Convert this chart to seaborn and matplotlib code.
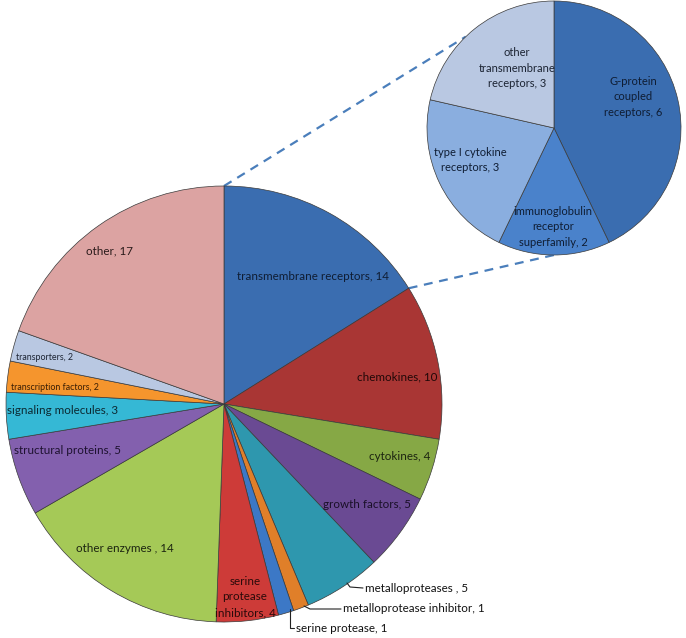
import numpy as np
import matplotlib
matplotlib.use("Agg")
import matplotlib.pyplot as plt
import seaborn as sns

# ================================================
#  Datos
# ================================================
categorias = ["transmembrane receptors", "chemokines", "cytokines", "growth factors",
              "metalloproteases", "metalloprotease inhibitor", "serine protease",
              "serine protease inhibitors", "other enzymes", "structural proteins",
              "signaling molecules", "transcription factors", "transporters", "other"]
valores = [14, 10, 4, 5, 5, 1, 1, 4, 14, 5, 3, 2, 2, 17]

sub_categorias = ["G-protein coupled receptors", "immunoglobulin receptor superfamily",
                  "type I cytokine receptors", "other transmembrane receptors"]
sub_valores = [6, 2, 3, 3]

colores = ["#3A6DB0", "#A93634", "#86A845", "#6A4A93", "#2E97AE", "#E07F29",
           "#3C78C6", "#CD3B38", "#A5C957", "#8360AE", "#35B8D5", "#F5952D",
           "#B9C8E2", "#DCA3A2"]
sub_colores = ["#3A6DB0", "#4A82CB", "#8AAEDF", "#B9C8E2"]

sns.set_style("white")
plt.rcParams['font.family'] = ['Lato', 'DejaVu Sans']

fig = plt.figure(figsize=(6.86, 6.38), dpi=100)
ax = fig.add_axes([0, 0, 1, 1])

# geometria en pixeles (y hacia arriba)
c_main, r_main = (224, 638 - 404), 218
c_sub, r_sub = (554, 638 - 128), 127

ax.pie(valores, colors=colores, startangle=90, counterclock=False,
       center=c_main, radius=r_main, frame=True,
       wedgeprops=dict(edgecolor='#3a3a3a', linewidth=0.5))
ax.pie(sub_valores, colors=sub_colores, startangle=90, counterclock=False,
       center=c_sub, radius=r_sub, frame=True,
       wedgeprops=dict(edgecolor='#3a3a3a', linewidth=0.5))
ax.set_xlim(0, 686)
ax.set_ylim(0, 638)
ax.set_aspect('equal')
ax.axis('off')

# lineas de conexion
ang_fin = np.deg2rad(90 - 360 * valores[0] / sum(valores))
p1 = (c_main[0], c_main[1] + r_main)
p2 = (c_main[0] + r_main * np.cos(ang_fin), c_main[1] + r_main * np.sin(ang_fin))
q1 = (c_sub[0] + r_sub * np.cos(np.deg2rad(134)), c_sub[1] + r_sub * np.sin(np.deg2rad(134)))
q2 = (c_sub[0], c_sub[1] - r_sub)
for a, b in [(p1, q1), (p2, q2)]:
    ax.plot([a[0], b[0]], [a[1], b[1]], color='#4A7EBB', lw=1.6,
            linestyle=(0, (4, 3)), zorder=0)

# ================================================
#  Etiquetas
# ================================================
def etiqueta(x, y, texto, size=8.4, color='#1f1f1f', ha='center'):
    ax.text(x, 638 - y, texto, ha=ha, va='center', fontsize=size, color=color,
            linespacing=1.5)

etiqueta(109, 251, "other, 17", color='#2a1a1a')
etiqueta(313, 277, "transmembrane receptors, 14", color='#0f1d33')
etiqueta(397, 377, "chemokines, 10", color='#200808')
etiqueta(400, 457, "cytokines, 4", color='#1c2410')
etiqueta(367, 504, "growth factors, 5", color='#1a1028')
etiqueta(125, 549, "other enzymes , 14", color='#1c2410')
etiqueta(67, 451, "structural proteins, 5", color='#1e1230')
etiqueta(63, 411, "signaling molecules, 3", color='#0c2a33')
etiqueta(55, 387, "transcription factors, 2", size=6.4, color='#3a1e05')
etiqueta(45, 357, "transporters, 2", size=6.4, color='#1c2433')
etiqueta(245, 597, "serine\nprotease\ninhibitors, 4", color='#2a0a0a')

etiqueta(365, 588, "metalloproteases , 5", ha='left', color='#111111')
etiqueta(343, 609, "metalloprotease inhibitor, 1", ha='left', color='#111111')
etiqueta(296, 628, "serine protease, 1", ha='left', color='#111111')

# lineas guia
guias = [[(347, 583), (350, 587), (363, 588)],
         [(304, 606), (310, 609), (341, 609)],
         [(290, 609), (290, 628), (294, 628)]]
for g in guias:
    ax.plot([p[0] for p in g], [638 - p[1] for p in g], color='#222222', lw=0.8)

etiqueta(517, 68, "other\ntransmembrane\nreceptors, 3", size=8, color='#1c2433')
etiqueta(633, 97, "G-protein\ncoupled\nreceptors, 6", size=8, color='#0f1d33')
etiqueta(470, 160, "type I cytokine\nreceptors, 3", size=8, color='#0f1d33')
etiqueta(553, 227, "immunoglobulin\nreceptor\nsuperfamily, 2", size=8, color='#0f1d33')

plt.savefig("out.png", dpi=100)
